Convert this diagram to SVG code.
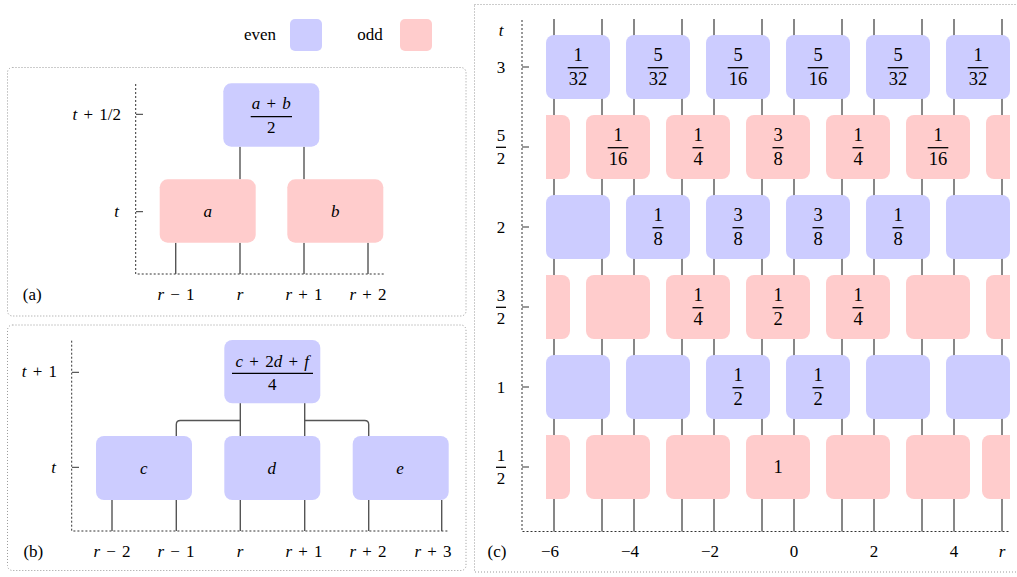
<svg xmlns="http://www.w3.org/2000/svg" width="1017" height="577" viewBox="0 0 1017 577">
  <style>
    text { font-family: "Liberation Serif", "DejaVu Serif", serif; font-size: 17px; fill: #000; word-spacing: 2px; }
    .m { text-anchor: middle; }
    .e { text-anchor: end; }
    .i { font-style: italic; }
    .fr { font-size: 18.5px; text-anchor: middle; }
    .even { fill: #ccccff; }
    .odd { fill: #ffcccc; }
    .frame { fill: none; stroke: #999; stroke-width: 1; stroke-dasharray: 1 2; }
    .axis { fill: none; stroke: #333; stroke-width: 1; stroke-dasharray: 2 2; }
    .tick { stroke: #333; stroke-width: 1; }
    .wire { fill: none; stroke: #555; stroke-width: 1.4; }
    .bar { stroke: #000; stroke-width: 1.3; }
  </style>
  <defs>
    <clipPath id="lattice-clip">
      <rect x="546" y="0" width="464" height="577"/>
    </clipPath>
    <rect id="cell" width="64" height="64" rx="8"/>
  </defs>

  <!-- legend -->
  <g id="legend">
    <text class="m" x="260" y="40">even</text>
    <rect class="even" x="290" y="19" width="32" height="32" rx="5"/>
    <text class="m" x="370" y="40">odd</text>
    <rect class="odd" x="400" y="19" width="32" height="32" rx="5"/>
  </g>

  <!-- ===== panel (a) ===== -->
  <g id="panel-a">
    <rect class="frame" x="7.5" y="67.5" width="458.5" height="248.5" rx="5"/>
    <path class="axis" d="M135.7,84 V274 H384"/>
    <path class="tick" d="M136,114.3 h7 M136,211.7 h7"/>
    <text class="e" x="121" y="120"><tspan class="i">t</tspan> + 1/2</text>
    <text class="e" x="119" y="217"><tspan class="i">t</tspan></text>
    <text class="m" x="32.3" y="300">(a)</text>
    <text class="m" x="176" y="300"><tspan class="i">r</tspan> − 1</text>
    <text class="m i" x="240" y="300">r</text>
    <text class="m" x="304" y="300"><tspan class="i">r</tspan> + 1</text>
    <text class="m" x="368" y="300"><tspan class="i">r</tspan> + 2</text>
  </g>
  <g id="connectors-a">
    <path class="wire" d="M175.7,242.7 V274 M240,242.7 V274 M304,242.7 V274 M368,242.7 V274"/>
    <path class="wire" d="M240,146.7 V179.3 M304,146.7 V179.3"/>
  </g>
  <g id="a-avg">
    <rect class="even" x="223.3" y="83.3" width="96" height="63.4" rx="8"/>
    <text class="m" x="271.3" y="109"><tspan class="i">a</tspan> + <tspan class="i">b</tspan></text>
    <line class="bar" x1="250.7" y1="116.7" x2="292" y2="116.7"/>
    <text class="m" x="271.3" y="133.3">2</text>
  </g>
  <g id="a-a">
    <rect class="odd" x="159.7" y="179.3" width="96" height="63.4" rx="8"/>
    <text class="m i" x="207.7" y="217">a</text>
  </g>
  <g id="a-b">
    <rect class="odd" x="287.3" y="179.3" width="96" height="63.4" rx="8"/>
    <text class="m i" x="335.3" y="217">b</text>
  </g>

  <!-- ===== panel (b) ===== -->
  <g id="panel-b">
    <rect class="frame" x="7.5" y="325" width="458.5" height="245.5" rx="5"/>
    <path class="axis" d="M71.7,340.7 V531 H449"/>
    <path class="tick" d="M72,372.3 h7 M72,467.3 h7"/>
    <text class="e" x="57" y="377"><tspan class="i">t</tspan> + 1</text>
    <text class="e" x="56" y="473"><tspan class="i">t</tspan></text>
    <text class="m" x="33.3" y="557">(b)</text>
    <text class="m" x="112" y="557"><tspan class="i">r</tspan> − 2</text>
    <text class="m" x="176" y="557"><tspan class="i">r</tspan> − 1</text>
    <text class="m i" x="240" y="557">r</text>
    <text class="m" x="304" y="557"><tspan class="i">r</tspan> + 1</text>
    <text class="m" x="368" y="557"><tspan class="i">r</tspan> + 2</text>
    <text class="m" x="433" y="557"><tspan class="i">r</tspan> + 3</text>
  </g>
  <g id="connectors-b">
    <path class="wire" d="M240.3,403 V436 M304.7,403 V436"/>
    <path class="wire" d="M240.3,420.5 H180.3 Q176.3,420.5 176.3,424.5 V436"/>
    <path class="wire" d="M304.7,420.5 H364.7 Q368.7,420.5 368.7,424.5 V436"/>
    <path class="wire" d="M112,500 V531 M176.3,500 V531 M240.3,500 V531 M304.7,500 V531 M368.7,500 V531 M441.7,500 V531"/>
  </g>
  <g id="b-avg">
    <rect class="even" x="224.3" y="340" width="96" height="63.3" rx="8"/>
    <text class="m" x="272.3" y="366.7"><tspan class="i">c</tspan> + 2<tspan class="i">d</tspan> + <tspan class="i">f</tspan></text>
    <line class="bar" x1="232" y1="373.3" x2="313" y2="373.3"/>
    <text class="m" x="272.3" y="390">4</text>
  </g>
  <g id="b-c">
    <rect class="even" x="96" y="436" width="96" height="64" rx="8"/>
    <text class="m i" x="143.7" y="473.5">c</text>
  </g>
  <g id="b-d">
    <rect class="even" x="224.3" y="436" width="96" height="64" rx="8"/>
    <text class="m i" x="271.7" y="473.5">d</text>
  </g>
  <g id="b-e">
    <rect class="even" x="352.7" y="436" width="96" height="64" rx="8"/>
    <text class="m i" x="400" y="473.5">e</text>
  </g>

  <!-- ===== panel (c) ===== -->
  <g id="panel-c">
    <rect class="frame" x="474.5" y="4.5" width="560" height="567.5"/>
    <path class="axis" d="M522,20 V531.5 H1010"/>
    <path class="tick" d="M522,67 h7 M522,147 h7 M522,227 h7 M522,307 h7 M522,387 h7 M522,467 h7"/>
    <text class="m i" x="501" y="36">t</text>
    <text class="m" x="501" y="72.5">3</text>
    <text class="m" x="501" y="141">5</text><line class="bar" x1="496" y1="147.3" x2="506" y2="147.3"/><text class="m" x="501" y="164">2</text>
    <text class="m" x="501" y="232.5">2</text>
    <text class="m" x="501" y="301">3</text><line class="bar" x1="496" y1="307.3" x2="506" y2="307.3"/><text class="m" x="501" y="324">2</text>
    <text class="m" x="501" y="392.5">1</text>
    <text class="m" x="501" y="461">1</text><line class="bar" x1="496" y1="467.3" x2="506" y2="467.3"/><text class="m" x="501" y="484">2</text>
    <text class="m" x="497" y="557">(c)</text>
    <text class="m" x="550" y="557">−6</text>
    <text class="m" x="630" y="557">−4</text>
    <text class="m" x="710" y="557">−2</text>
    <text class="m" x="794" y="557">0</text>
    <text class="m" x="874" y="557">2</text>
    <text class="m" x="954" y="557">4</text>
    <text class="m i" x="1002" y="557">r</text>
  </g>
  <g id="connectors-c">
    <path class="wire" d="M554,19 V531.5 M602,19 V531.5 M634,19 V531.5 M682,19 V531.5 M714,19 V531.5 M762,19 V531.5 M794,19 V531.5 M842,19 V531.5 M874,19 V531.5 M922,19 V531.5 M954,19 V531.5 M1002,19 V531.5"/>
  </g>
  <g id="lattice" clip-path="url(#lattice-clip)">
    <!-- t = 3 -->
    <g id="c-t3-0"><use href="#cell" class="even" x="546" y="35"/><text class="fr" x="578" y="61">1</text><line class="bar" x1="567.7" y1="67.7" x2="588.3" y2="67.7"/><text class="fr" x="578" y="85">32</text></g>
    <g id="c-t3-1"><use href="#cell" class="even" x="626" y="35"/><text class="fr" x="658" y="61">5</text><line class="bar" x1="647.7" y1="67.7" x2="668.3" y2="67.7"/><text class="fr" x="658" y="85">32</text></g>
    <g id="c-t3-2"><use href="#cell" class="even" x="706" y="35"/><text class="fr" x="738" y="61">5</text><line class="bar" x1="727.7" y1="67.7" x2="748.3" y2="67.7"/><text class="fr" x="738" y="85">16</text></g>
    <g id="c-t3-3"><use href="#cell" class="even" x="786" y="35"/><text class="fr" x="818" y="61">5</text><line class="bar" x1="807.7" y1="67.7" x2="828.3" y2="67.7"/><text class="fr" x="818" y="85">16</text></g>
    <g id="c-t3-4"><use href="#cell" class="even" x="866" y="35"/><text class="fr" x="898" y="61">5</text><line class="bar" x1="887.7" y1="67.7" x2="908.3" y2="67.7"/><text class="fr" x="898" y="85">32</text></g>
    <g id="c-t3-5"><use href="#cell" class="even" x="946" y="35"/><text class="fr" x="978" y="61">1</text><line class="bar" x1="967.7" y1="67.7" x2="988.3" y2="67.7"/><text class="fr" x="978" y="85">32</text></g>
    <!-- t = 5/2 -->
    <g id="c-t52-0"><use href="#cell" class="odd" x="506" y="115"/></g>
    <g id="c-t52-1"><use href="#cell" class="odd" x="586" y="115"/><text class="fr" x="618" y="141">1</text><line class="bar" x1="607.7" y1="147.7" x2="628.3" y2="147.7"/><text class="fr" x="618" y="165">16</text></g>
    <g id="c-t52-2"><use href="#cell" class="odd" x="666" y="115"/><text class="fr" x="698" y="141">1</text><line class="bar" x1="692.5" y1="147.7" x2="703.5" y2="147.7"/><text class="fr" x="698" y="165">4</text></g>
    <g id="c-t52-3"><use href="#cell" class="odd" x="746" y="115"/><text class="fr" x="778" y="141">3</text><line class="bar" x1="772.5" y1="147.7" x2="783.5" y2="147.7"/><text class="fr" x="778" y="165">8</text></g>
    <g id="c-t52-4"><use href="#cell" class="odd" x="826" y="115"/><text class="fr" x="858" y="141">1</text><line class="bar" x1="852.5" y1="147.7" x2="863.5" y2="147.7"/><text class="fr" x="858" y="165">4</text></g>
    <g id="c-t52-5"><use href="#cell" class="odd" x="906" y="115"/><text class="fr" x="938" y="141">1</text><line class="bar" x1="927.7" y1="147.7" x2="948.3" y2="147.7"/><text class="fr" x="938" y="165">16</text></g>
    <g id="c-t52-6"><use href="#cell" class="odd" x="986" y="115"/></g>
    <!-- t = 2 -->
    <g id="c-t2-0"><use href="#cell" class="even" x="546" y="195"/></g>
    <g id="c-t2-1"><use href="#cell" class="even" x="626" y="195"/><text class="fr" x="658" y="221">1</text><line class="bar" x1="652.5" y1="227.7" x2="663.5" y2="227.7"/><text class="fr" x="658" y="245">8</text></g>
    <g id="c-t2-2"><use href="#cell" class="even" x="706" y="195"/><text class="fr" x="738" y="221">3</text><line class="bar" x1="732.5" y1="227.7" x2="743.5" y2="227.7"/><text class="fr" x="738" y="245">8</text></g>
    <g id="c-t2-3"><use href="#cell" class="even" x="786" y="195"/><text class="fr" x="818" y="221">3</text><line class="bar" x1="812.5" y1="227.7" x2="823.5" y2="227.7"/><text class="fr" x="818" y="245">8</text></g>
    <g id="c-t2-4"><use href="#cell" class="even" x="866" y="195"/><text class="fr" x="898" y="221">1</text><line class="bar" x1="892.5" y1="227.7" x2="903.5" y2="227.7"/><text class="fr" x="898" y="245">8</text></g>
    <g id="c-t2-5"><use href="#cell" class="even" x="946" y="195"/></g>
    <!-- t = 3/2 -->
    <g id="c-t32-0"><use href="#cell" class="odd" x="506" y="275"/></g>
    <g id="c-t32-1"><use href="#cell" class="odd" x="586" y="275"/></g>
    <g id="c-t32-2"><use href="#cell" class="odd" x="666" y="275"/><text class="fr" x="698" y="301">1</text><line class="bar" x1="692.5" y1="307.7" x2="703.5" y2="307.7"/><text class="fr" x="698" y="325">4</text></g>
    <g id="c-t32-3"><use href="#cell" class="odd" x="746" y="275"/><text class="fr" x="778" y="301">1</text><line class="bar" x1="772.5" y1="307.7" x2="783.5" y2="307.7"/><text class="fr" x="778" y="325">2</text></g>
    <g id="c-t32-4"><use href="#cell" class="odd" x="826" y="275"/><text class="fr" x="858" y="301">1</text><line class="bar" x1="852.5" y1="307.7" x2="863.5" y2="307.7"/><text class="fr" x="858" y="325">4</text></g>
    <g id="c-t32-5"><use href="#cell" class="odd" x="906" y="275"/></g>
    <g id="c-t32-6"><use href="#cell" class="odd" x="986" y="275"/></g>
    <!-- t = 1 -->
    <g id="c-t1-0"><use href="#cell" class="even" x="546" y="355"/></g>
    <g id="c-t1-1"><use href="#cell" class="even" x="626" y="355"/></g>
    <g id="c-t1-2"><use href="#cell" class="even" x="706" y="355"/><text class="fr" x="738" y="381">1</text><line class="bar" x1="732.5" y1="387.7" x2="743.5" y2="387.7"/><text class="fr" x="738" y="405">2</text></g>
    <g id="c-t1-3"><use href="#cell" class="even" x="786" y="355"/><text class="fr" x="818" y="381">1</text><line class="bar" x1="812.5" y1="387.7" x2="823.5" y2="387.7"/><text class="fr" x="818" y="405">2</text></g>
    <g id="c-t1-4"><use href="#cell" class="even" x="866" y="355"/></g>
    <g id="c-t1-5"><use href="#cell" class="even" x="946" y="355"/></g>
    <!-- t = 1/2 -->
    <g id="c-t12-0"><use href="#cell" class="odd" x="506" y="435"/></g>
    <g id="c-t12-1"><use href="#cell" class="odd" x="586" y="435"/></g>
    <g id="c-t12-2"><use href="#cell" class="odd" x="666" y="435"/></g>
    <g id="c-t12-3"><use href="#cell" class="odd" x="746" y="435"/><text class="fr" x="778" y="473">1</text></g>
    <g id="c-t12-4"><use href="#cell" class="odd" x="826" y="435"/></g>
    <g id="c-t12-5"><use href="#cell" class="odd" x="906" y="435"/></g>
    <g id="c-t12-6"><use href="#cell" class="odd" x="982" y="435"/></g>
  </g>
</svg>
